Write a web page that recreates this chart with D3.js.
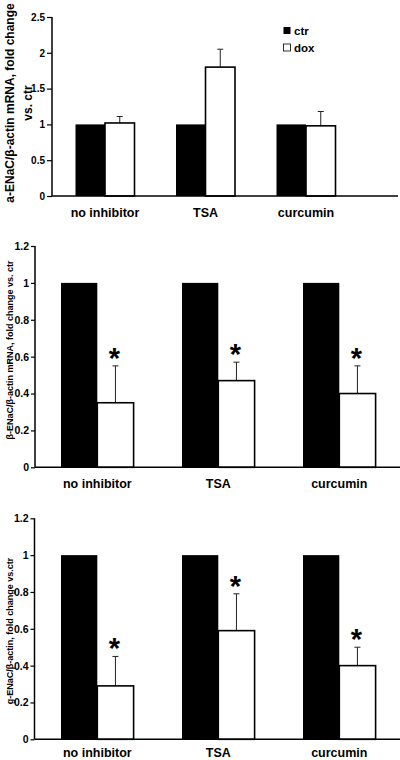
<!DOCTYPE html>
<html>
<head>
<meta charset="utf-8">
<script src="https://cdn.jsdelivr.net/npm/d3@7"></script>
<style>
  html, body { margin: 0; padding: 0; background: #fff; }
  svg { display: block; font-family: "Liberation Sans", Arial, Helvetica, sans-serif; font-weight: bold; }
</style>
</head>
<body>
<svg id="chart" width="400" height="760"></svg>
<script>
// ---------- data ----------
const categories = ["no inhibitor", "TSA", "curcumin"];
const seriesNames = ["ctr", "dox"];

// panel A: alpha-ENaC
const alphaCtr = [1, 1, 1];
const alphaDox = [1.02, 1.80, 0.98];
const alphaDoxErr = [0.09, 0.25, 0.20];
const alphaSig = [false, false, false];
const alphaTicks = [0, 0.5, 1, 1.5, 2, 2.5];

// panel B: beta-ENaC
const betaCtr = [1, 1, 1];
const betaDox = [0.35, 0.47, 0.40];
const betaDoxErr = [0.20, 0.10, 0.15];
const betaSig = [true, true, true];
const betaTicks = [0, 0.2, 0.4, 0.6, 0.8, 1, 1.2];

// panel C: gamma-ENaC
const gammaCtr = [1, 1, 1];
const gammaDox = [0.29, 0.59, 0.40];
const gammaDoxErr = [0.16, 0.20, 0.10];
const gammaSig = [true, true, true];
const gammaTicks = [0, 0.2, 0.4, 0.6, 0.8, 1, 1.2];

const yLabelA = ["a-ENaC/β-actin mRNA, fold change", "vs. ctr"];
const yLabelB = ["β-ENaC/β-actin mRNA, fold change vs. ctr"];
const yLabelC = ["g-ENaC/β-actin, fold change vs.ctr"];

// ---------- drawing ----------
const svg = d3.select("#chart");

function panel(cfg) {
  const g = svg.append("g");
  const x = d3.scaleBand().domain(categories).range([cfg.bandX0, cfg.bandX1]).padding(0);
  const sub = d3.scaleBand().domain(seriesNames).range([-cfg.barW, cfg.barW]).padding(0);
  const y = d3.scaleLinear().domain([0, cfg.ticks[cfg.ticks.length - 1]]).range([cfg.yBottom, cfg.yTop]);

  const rows = categories.map((c, i) => ({
    cat: c, ctr: cfg.ctr[i], dox: cfg.dox[i], err: cfg.err[i], sig: cfg.sig[i]
  }));
  const cx = c => x(c) + x.bandwidth() / 2;

  // ctr bars (black)
  g.selectAll(".ctr").data(rows).join("rect")
    .attr("x", d => cx(d.cat) + sub("ctr"))
    .attr("y", d => y(d.ctr))
    .attr("width", sub.bandwidth())
    .attr("height", d => y(0) - y(d.ctr))
    .attr("fill", "#000");

  // error bars (upper only)
  const doxC = d => cx(d.cat) + sub("dox") + sub.bandwidth() / 2;
  g.selectAll(".errv").data(rows).join("line")
    .attr("x1", doxC).attr("x2", doxC)
    .attr("y1", d => y(d.dox)).attr("y2", d => y(d.dox + d.err))
    .attr("stroke", "#222").attr("stroke-width", 1);
  g.selectAll(".errh").data(rows).join("line")
    .attr("x1", d => doxC(d) - 3).attr("x2", d => doxC(d) + 3)
    .attr("y1", d => y(d.dox + d.err)).attr("y2", d => y(d.dox + d.err))
    .attr("stroke", "#222").attr("stroke-width", 1);

  // dox bars (white, outlined)
  g.selectAll(".dox").data(rows).join("rect")
    .attr("x", d => cx(d.cat) + sub("dox"))
    .attr("y", d => y(d.dox))
    .attr("width", sub.bandwidth())
    .attr("height", d => y(0) - y(d.dox))
    .attr("fill", "#fff").attr("stroke", "#000").attr("stroke-width", 1.6);

  // significance asterisks
  g.selectAll(".sig").data(rows.filter(d => d.sig)).join("text")
    .attr("x", d => doxC(d) - 1)
    .attr("y", d => y(d.dox + d.err) + 2)
    .attr("text-anchor", "middle")
    .attr("font-size", 29)
    .text("*");

  // y axis
  const ax = g.append("g")
    .attr("transform", `translate(${cfg.axisX},0)`)
    .call(d3.axisLeft(y).tickValues(cfg.ticks).tickFormat(d => String(d))
      .tickSize(cfg.tickLen).tickSizeOuter(0).tickPadding(2));
  ax.select(".domain").attr("stroke-width", 1.5).attr("d", `M0,${y(0)}V${cfg.yTop}`);
  ax.selectAll(".tick line").attr("stroke-width", 1.2);
  ax.selectAll(".tick text").attr("font-size", cfg.tickFont).attr("font-weight", "bold")
    .attr("font-family", "'Liberation Sans', Arial, sans-serif").attr("fill", "#000");

  // x axis line
  g.append("line")
    .attr("x1", cfg.axisX).attr("x2", cfg.xEnd)
    .attr("y1", y(0)).attr("y2", y(0))
    .attr("stroke", "#000").attr("stroke-width", 1.5);

  // category labels
  g.selectAll(".cat").data(categories).join("text")
    .attr("x", d => cx(d))
    .attr("y", y(0) + cfg.catOffset)
    .attr("text-anchor", "middle")
    .attr("font-size", 12.5)
    .text(d => d);

  // y label
  cfg.yLabel.forEach((t, i) => {
    g.append("text")
      .attr("transform", `translate(${cfg.labelX[i]},${cfg.labelY}) rotate(-90)`)
      .attr("text-anchor", "middle")
      .attr("dy", "0.35em")
      .attr("font-size", cfg.labelFont)
      .text(t);
  });

  return { g, y };
}

const pA = panel({
  ctr: alphaCtr, dox: alphaDox, err: alphaDoxErr, sig: alphaSig, ticks: alphaTicks,
  bandX0: 54.75, bandX1: 356.25, barW: 29.5, axisX: 52, xEnd: 398,
  yTop: 17, yBottom: 196, tickLen: 5, tickFont: 10, catOffset: 20.5,
  yLabel: yLabelA, labelX: [10, 28], labelY: 103, labelFont: 12
});

// legend for panel A
const legend = pA.g.append("g");
seriesNames.forEach((s, i) => {
  legend.append("rect")
    .attr("x", 283.5).attr("y", 27 + i * 17)
    .attr("width", 7).attr("height", 7)
    .attr("fill", s === "ctr" ? "#000" : "#fff")
    .attr("stroke", "#000").attr("stroke-width", s === "ctr" ? 0 : 0.8);
  legend.append("text")
    .attr("x", 294).attr("y", 34.5 + i * 17)
    .attr("font-size", 11.5)
    .text(s);
});

panel({
  ctr: betaCtr, dox: betaDox, err: betaDoxErr, sig: betaSig, ticks: betaTicks,
  bandX0: 36.8, bandX1: 399.8, barW: 36.3, axisX: 35, xEnd: 400,
  yTop: 246, yBottom: 467.3, tickLen: 4, tickFont: 10.5, catOffset: 20.5,
  yLabel: yLabelB, labelX: [10], labelY: 350, labelFont: 9
});

panel({
  ctr: gammaCtr, dox: gammaDox, err: gammaDoxErr, sig: gammaSig, ticks: gammaTicks,
  bandX0: 36.8, bandX1: 399.8, barW: 36.3, axisX: 34.5, xEnd: 400,
  yTop: 518.3, yBottom: 739.3, tickLen: 4, tickFont: 10.5, catOffset: 18,
  yLabel: yLabelC, labelX: [10], labelY: 631, labelFont: 9
});
</script>
</body>
</html>
